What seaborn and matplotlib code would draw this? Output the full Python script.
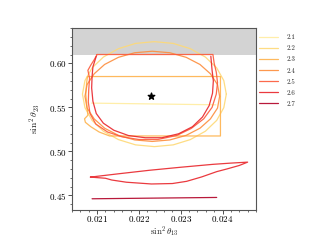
import pandas as pd
import matplotlib
matplotlib.use("Agg")
import matplotlib.pyplot as plt
from matplotlib.ticker import AutoMinorLocator
import seaborn as sns

# contour levels (legend labels)
levels = ["2.1", "2.2", "2.3", "2.4", "2.5", "2.6", "2.7"]
colors = ["#ffeda0", "#fed976", "#feb24c", "#fd8d3c", "#fc5a3a", "#e8242a", "#b10026"]

# best fit point
best_x = [0.02229]
best_y = [0.5630]

# 2.1 : thin horizontal contour
c21_x = [0.02087, 0.02384]
c21_y = [0.5548, 0.5529]

# 2.2 : outer ellipse
c22_x = [0.02409, 0.02403, 0.02386, 0.02359, 0.02323, 0.02282, 0.02237, 0.02192,
         0.02151, 0.02115, 0.02088, 0.02071, 0.02065, 0.02071, 0.02088, 0.02115,
         0.02151, 0.02192, 0.02237, 0.02282, 0.02323, 0.02359, 0.02386, 0.02403, 0.02409]
c22_y = [0.5650, 0.5804, 0.5948, 0.6071, 0.6166, 0.6226, 0.6246, 0.6226,
         0.6166, 0.6071, 0.5948, 0.5804, 0.5650, 0.5496, 0.5352, 0.5229,
         0.5134, 0.5074, 0.5054, 0.5074, 0.5134, 0.5229, 0.5352, 0.5496, 0.5650]

# 2.3 : D shaped contour
c23_x = [0.02077, 0.02395, 0.02395, 0.02130, 0.02105, 0.02085, 0.02072, 0.02070,
         0.02078, 0.02076, 0.02073, 0.02075, 0.02077]
c23_y = [0.5850, 0.5850, 0.5175, 0.5175, 0.5220, 0.5280, 0.5330, 0.5370,
         0.5410, 0.5500, 0.5650, 0.5780, 0.5850]

# 2.4 : inner ellipse
c24_x = [0.02393, 0.02388, 0.02371, 0.02346, 0.02313, 0.02274, 0.02232, 0.02190,
         0.02151, 0.02118, 0.02093, 0.02076, 0.02071, 0.02076, 0.02093, 0.02118,
         0.02151, 0.02190, 0.02232, 0.02274, 0.02313, 0.02346, 0.02371, 0.02388, 0.02393]
c24_y = [0.5625, 0.5758, 0.5881, 0.5987, 0.6068, 0.6120, 0.6137, 0.6120,
         0.6068, 0.5987, 0.5881, 0.5758, 0.5625, 0.5492, 0.5369, 0.5263,
         0.5182, 0.5130, 0.5113, 0.5130, 0.5182, 0.5263, 0.5369, 0.5492, 0.5625]

# 2.5 : flat topped contour
c25_x = [0.02100, 0.02377, 0.02380, 0.02385, 0.02388, 0.02385, 0.02375, 0.02355,
         0.02325, 0.02290, 0.02245, 0.02200, 0.02160, 0.02125, 0.02097, 0.02083,
         0.02079, 0.02080, 0.02082, 0.02078, 0.02085, 0.02093, 0.02100]
c25_y = [0.6100, 0.6100, 0.6000, 0.5900, 0.5780, 0.5650, 0.5500, 0.5370,
         0.5260, 0.5180, 0.5135, 0.5135, 0.5165, 0.5220, 0.5310, 0.5430,
         0.5560, 0.5700, 0.5830, 0.5920, 0.5980, 0.6040, 0.6100]

# 2.6 : two pieces, one in the main blob and one lower down
c26a_x = [0.02098, 0.02090, 0.02088, 0.02087, 0.02090, 0.02098, 0.02115, 0.02140,
          0.02175, 0.02215, 0.02255, 0.02295, 0.02328, 0.02352, 0.02368, 0.02376,
          0.02378, 0.02375, 0.02372]
c26a_y = [0.6080, 0.5960, 0.5850, 0.5720, 0.5570, 0.5430, 0.5320, 0.5240,
          0.5180, 0.5155, 0.5155, 0.5200, 0.5280, 0.5390, 0.5520, 0.5660,
          0.5800, 0.5920, 0.6080]
c26b_x = [0.02084, 0.02150, 0.02226, 0.02300, 0.02377, 0.02420, 0.02460, 0.02440,
          0.02410, 0.02386, 0.02350, 0.02314, 0.02280, 0.02230, 0.02170, 0.02135,
          0.02120, 0.02084]
c26b_y = [0.4708, 0.4745, 0.4786, 0.4820, 0.4853, 0.4867, 0.4878, 0.4840,
          0.4800, 0.4770, 0.4710, 0.4660, 0.4635, 0.4630, 0.4650, 0.4675,
          0.4695, 0.4708]

# 2.7 : lowest contour
c27_x = [0.02088, 0.02386]
c27_y = [0.4462, 0.4477]

pieces = [("2.1", c21_x, c21_y), ("2.2", c22_x, c22_y), ("2.3", c23_x, c23_y),
          ("2.4", c24_x, c24_y), ("2.5", c25_x, c25_y), ("2.6", c26a_x, c26a_y),
          ("2.6", c26b_x, c26b_y), ("2.7", c27_x, c27_y)]
frames = []
for i, (lev, xs, ys) in enumerate(pieces):
    frames.append(pd.DataFrame({"x": xs, "y": ys, "level": lev, "part": i}))
df = pd.concat(frames, ignore_index=True)

sns.set_style("ticks")
plt.rcParams["font.family"] = "serif"
plt.rcParams["font.serif"] = ["cmr10", "DejaVu Serif"]
plt.rcParams["mathtext.fontset"] = "cm"
plt.rcParams["axes.formatter.use_mathtext"] = True

fig = plt.figure(figsize=(3.2, 2.4), dpi=100)
ax = fig.add_axes([0.225, 0.127, 0.575, 0.756])

ax.axhspan(0.61, 0.65, color="#d3d3d3", lw=0, zorder=0)
sns.lineplot(data=df, x="x", y="y", hue="level", units="part", estimator=None,
             sort=False, palette=dict(zip(levels, colors)), hue_order=levels,
             lw=0.9, alpha=0.9, ax=ax)
ax.scatter(best_x, best_y, marker="*", s=24, color="black", zorder=5)

ax.set_xlim(0.0204, 0.0248)
ax.set_ylim(0.434, 0.64)
ax.set_xticks([0.021, 0.022, 0.023, 0.024])
ax.set_yticks([0.45, 0.50, 0.55, 0.60])
ax.xaxis.set_minor_locator(AutoMinorLocator())
ax.yaxis.set_minor_locator(AutoMinorLocator())
ax.tick_params(labelsize=6.5, length=2.6, width=0.6, pad=1.2, colors="#333333", labelcolor="black")
ax.tick_params(axis="x", pad=0.8)
ax.tick_params(which="minor", length=1.6, width=0.5, colors="#333333")
for s in ax.spines.values():
    s.set_linewidth(0.8)
    s.set_color("#555555")
ax.set_xlabel(r"$\sin^2\theta_{13}$", fontsize=6.5)
ax.set_ylabel(r"$\sin^2\theta_{23}$", fontsize=7, labelpad=4)
ax.xaxis.set_label_coords(0.5, -0.08)

ax.legend(loc="upper left", bbox_to_anchor=(1.0, 0.98), frameon=False, fontsize=5,
          handlelength=2.8, labelspacing=0.75, borderaxespad=0.0, handletextpad=1.2)

fig.savefig("out.png", dpi=100)
